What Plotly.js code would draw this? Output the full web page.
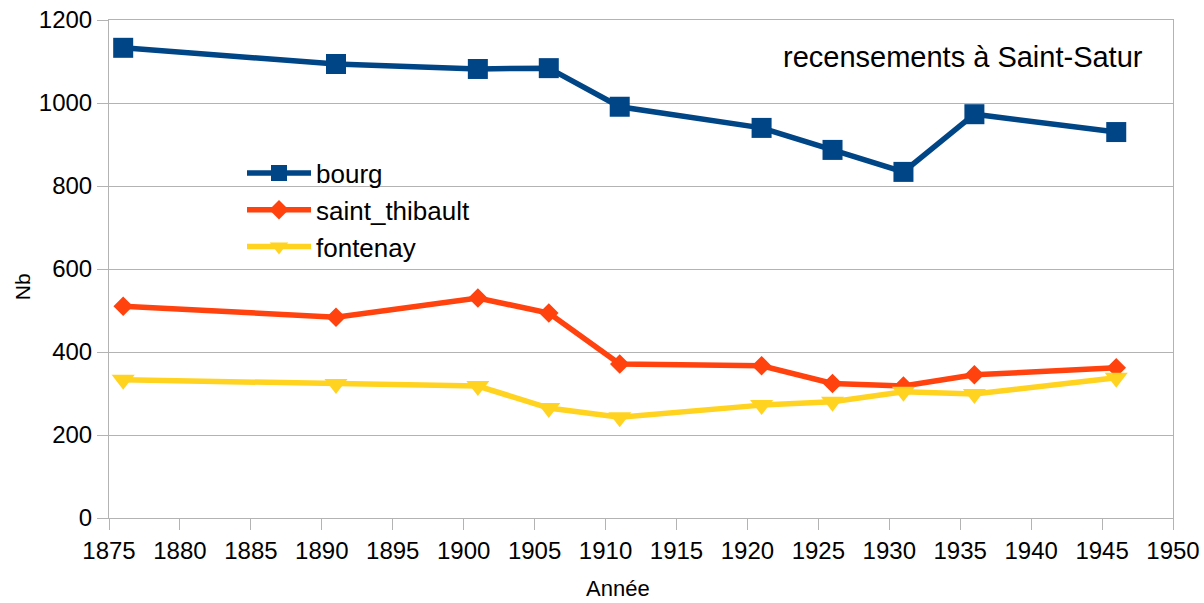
<!DOCTYPE html>
<html>
<head>
<meta charset="utf-8">
<script src="https://cdn.plot.ly/plotly-3.0.1.min.js"></script>
<style>html,body{margin:0;padding:0;background:#fff;}#chart{width:1204px;height:603px;}</style>
</head>
<body>
<div id="chart"></div>
<script>
const years = [1876, 1891, 1901, 1906, 1911, 1921, 1926, 1931, 1936, 1946];
const bourg = [1133, 1094, 1082, 1084, 991, 940, 887, 834, 973, 930];
const saintThibault = [510, 484, 530, 494, 371, 367, 324, 318, 345, 362];
const fontenay = [333, 323, 318, 265, 243, 272, 280, 304, 299, 338];
const seriesNames = ["bourg", "saint_thibault", "fontenay"];
const xTitle = "Année";
const yTitle = "Nb";
const noteText = "recensements à Saint-Satur";

const font = "Liberation Sans, Arial, sans-serif";
const traces = [
  {x: years, y: bourg, name: seriesNames[0], mode: "lines+markers",
   line: {color: "#004586", width: 5.5}, marker: {symbol: "square", size: 20, color: "#004586"}},
  {x: years, y: saintThibault, name: seriesNames[1], mode: "lines+markers",
   line: {color: "#ff420e", width: 5.5}, marker: {symbol: "diamond", size: 15, color: "#ff420e"}},
  {x: years, y: fontenay, name: seriesNames[2], mode: "lines+markers",
   line: {color: "#ffd320", width: 5.5}, marker: {symbol: "triangle-down", size: 20, color: "#ffd320"}}
];
const layout = {
  width: 1204, height: 603,
  margin: {l: 109, r: 31, t: 20, b: 85},
  paper_bgcolor: "#fff", plot_bgcolor: "#fff",
  font: {family: font, size: 24, color: "#000"},
  showlegend: true,
  legend: {x: 0.125, y: 0.74, xanchor: "left", yanchor: "top", bgcolor: "rgba(0,0,0,0)",
           font: {family: font, size: 26}, tracegroupgap: 0, itemwidth: 64},
  xaxis: {range: [1875, 1950], dtick: 5, tick0: 1875, showgrid: false, zeroline: false,
          ticks: "outside", ticklen: 11, tickcolor: "#b3b3b3", showline: true, linecolor: "#b3b3b3",
          mirror: true, tickfont: {family: font, size: 24}},
  yaxis: {range: [0, 1200], dtick: 200, showgrid: true, gridcolor: "#b3b3b3", zeroline: false,
          ticks: "outside", ticklen: 11, tickcolor: "#b3b3b3", showline: true, linecolor: "#b3b3b3",
          mirror: true, tickfont: {family: font, size: 24}},
  annotations: [
    {text: noteText, xref: "paper", yref: "paper", x: 0.974, y: 0.926,
     xanchor: "right", yanchor: "middle", showarrow: false,
     font: {family: font, size: 29, color: "#000"}},
    {text: xTitle, xref: "paper", yref: "paper", x: 0.478, y: -0.141,
     xanchor: "center", yanchor: "middle", showarrow: false,
     font: {family: font, size: 22, color: "#000"}},
    {text: yTitle, xref: "paper", yref: "paper", x: -0.081, y: 0.465, textangle: -90,
     xanchor: "center", yanchor: "middle", showarrow: false,
     font: {family: font, size: 21, color: "#000"}}
  ]
};
Plotly.newPlot("chart", traces, layout, {displayModeBar: false, staticPlot: true});
</script>
</body>
</html>
